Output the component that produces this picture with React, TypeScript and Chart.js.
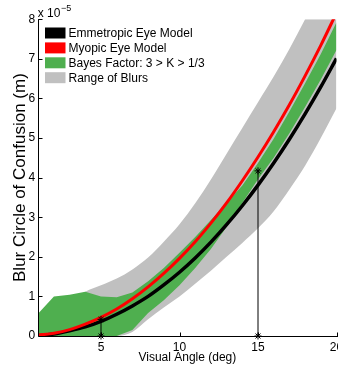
import React, { useEffect, useRef } from 'react';
import { Chart, registerables } from 'chart.js';

Chart.register(...registerables);

// ---- data (blur values in units of 1e-5 m) ----
const angles = [1, 2, 3, 4, 5, 6, 7, 8, 9, 10, 11, 12, 13, 14, 15, 16, 17, 18, 19, 20];
const emmetropic = [0.01, 0.05, 0.13, 0.23, 0.37, 0.55, 0.76, 1.0, 1.29, 1.61, 1.97, 2.37, 2.81, 3.29, 3.81, 4.37, 4.97, 5.61, 6.29, 7.01];
const myopic = [0.02, 0.07, 0.16, 0.3, 0.47, 0.68, 0.94, 1.24, 1.58, 1.96, 2.38, 2.85, 3.36, 3.92, 4.52, 5.16, 5.84, 6.57, 7.34, 8.16];
const bayesUpper = [0.57, 1.0, 1.04, 1.12, 1.0, 0.98, 1.1, 1.38, 1.72, 2.1, 2.5, 2.93, 3.36, 3.8, 4.37, 4.98, 5.67, 6.38, 7.12, 7.92];
const bayesLower = [0, 0, 0, 0, 0, 0, 0.15, 0.58, 0.9, 1.28, 1.72, 2.2, 2.75, 3.36, 3.96, 4.5, 5.12, 5.78, 6.48, 7.22];
const rangeUpper = [0.4, 0.65, 0.88, 1.12, 1.28, 1.45, 1.68, 1.98, 2.38, 2.82, 3.35, 3.95, 4.6, 5.25, 5.9, 6.55, 7.25, 8.0, 8.8, 9.6];
const rangeLower = [0, 0, 0, 0, 0, 0, 0.1, 0.42, 0.72, 1.0, 1.32, 1.65, 2.0, 2.35, 2.72, 3.15, 3.7, 4.3, 5.0, 5.75];
const stemAngles = [5, 15];
const stemBlurs = [0.42, 4.17];
const xTickValues = [5, 10, 15, 20];
const yTickValues = [0, 1, 2, 3, 4, 5, 6, 7, 8];
const legendLabels = ['Emmetropic Eye Model', 'Myopic Eye Model', 'Bayes Factor: 3 > K > 1/3', 'Range of Blurs'];
const xTitle = 'Visual Angle (deg)';
const yTitle = 'Blur Circle of Confusion (m)';
const exponentBase = 'x 10';
const exponentPower = '\u22125';

// ---- styles ----
const BLACK = '#000000';
const RED = '#ff0000';
const GREEN = '#4faf4f';
const GRAY = '#c0c0c0';
const legendColors = [BLACK, RED, GREEN, GRAY];
const FONT = '"Liberation Sans", Arial, Helvetica, sans-serif';

const pts = (ys: number[]) => angles.map((a, i) => ({ x: a, y: ys[i] }));

const overlayPlugin = {
  id: 'overlay',
  afterDatasetsDraw(chart: any) {
    const { ctx, chartArea } = chart;
    const xs = chart.scales.x;
    const ys = chart.scales.y;
    const left = Math.floor(chartArea.left) + 0.5;
    const bottom = Math.floor(chartArea.bottom) + 0.5;
    ctx.save();
    ctx.strokeStyle = BLACK;
    ctx.lineWidth = 1;
    ctx.beginPath();
    ctx.moveTo(left, chartArea.top);
    ctx.lineTo(left, bottom);
    ctx.lineTo(chartArea.right + 2, bottom);
    const tl = 4;
    xTickValues.forEach((v) => {
      const px = Math.round(xs.getPixelForValue(v)) + 0.5;
      ctx.moveTo(px, bottom);
      ctx.lineTo(px, bottom - tl);
    });
    yTickValues.forEach((v) => {
      const py = Math.round(ys.getPixelForValue(v)) + 0.5;
      ctx.moveTo(left, py);
      ctx.lineTo(left + tl, py);
    });
    ctx.stroke();
    ctx.restore();
  },
  afterDraw(chart: any) {
    const { ctx, chartArea } = chart;
    ctx.save();
    // exponent label
    ctx.fillStyle = BLACK;
    ctx.font = `12px ${FONT}`;
    ctx.textAlign = 'left';
    ctx.textBaseline = 'alphabetic';
    ctx.fillText(exponentBase, chartArea.left - 0.5, 16.5);
    const w = ctx.measureText(exponentBase).width;
    ctx.font = `9px ${FONT}`;
    ctx.fillText(exponentPower, chartArea.left - 0.5 + w + 0.5, 11);
    // legend
    const rowTop = 33;
    const rowStep = 14.9;
    ctx.font = `12px ${FONT}`;
    ctx.textBaseline = 'middle';
    legendLabels.forEach((lab, i) => {
      const cy = rowTop + i * rowStep;
      ctx.fillStyle = legendColors[i];
      ctx.fillRect(45, cy - 5.5, 20.5, 11);
      ctx.fillStyle = BLACK;
      ctx.fillText(lab, 68.5, cy + 0.5);
    });
    ctx.restore();
  },
};

export default function App() {
  const ref = useRef<HTMLCanvasElement | null>(null);
  useEffect(() => {
    if (!ref.current) return;
    const lineBase = { pointRadius: 0, pointHoverRadius: 0 };
    const stems = stemAngles.map((a, i) => ({
      label: 'stem' + i,
      data: [
        { x: a, y: 0 },
        { x: a, y: stemBlurs[i] },
      ],
      borderColor: BLACK,
      borderWidth: 1,
      pointStyle: 'star',
      pointRadius: 3.5,
      pointBorderColor: BLACK,
      pointBorderWidth: 1,
      pointBackgroundColor: BLACK,
      fill: false,
      clip: false,
      order: 0,
    }));
    const chart = new Chart(ref.current, {
      type: 'line',
      data: {
        datasets: [
          {
            label: 'rangeUpper',
            data: pts(rangeUpper),
            ...lineBase,
            borderWidth: 0,
            borderColor: 'transparent',
            backgroundColor: GRAY,
            fill: '+1',
            cubicInterpolationMode: 'monotone',
            order: 6,
          },
          {
            label: 'rangeLower',
            data: pts(rangeLower),
            ...lineBase,
            borderWidth: 0,
            borderColor: 'transparent',
            fill: false,
            cubicInterpolationMode: 'monotone',
            order: 5,
          },
          {
            label: 'bayesUpper',
            data: pts(bayesUpper),
            ...lineBase,
            borderWidth: 0,
            borderColor: 'transparent',
            backgroundColor: GREEN,
            fill: '+1',
            tension: 0,
            order: 4,
          },
          {
            label: 'bayesLower',
            data: pts(bayesLower),
            ...lineBase,
            borderWidth: 0,
            borderColor: 'transparent',
            fill: false,
            tension: 0,
            order: 3,
          },
          {
            label: legendLabels[0],
            data: pts(emmetropic),
            ...lineBase,
            borderColor: BLACK,
            borderWidth: 3.5,
            fill: false,
            cubicInterpolationMode: 'monotone',
            order: 2,
          },
          {
            label: legendLabels[1],
            data: pts(myopic),
            ...lineBase,
            borderColor: RED,
            borderWidth: 3,
            fill: false,
            cubicInterpolationMode: 'monotone',
            order: 1,
          },
          ...stems,
        ] as any,
      },
      options: {
        responsive: false,
        animation: false,
        events: [],
        layout: { autoPadding: false, padding: { left: 0, right: 1.5, top: 19.2, bottom: 0 } },
        plugins: {
          legend: { display: false },
          tooltip: { enabled: false },
        },
        scales: {
          x: {
            type: 'linear',
            min: 1,
            max: 20,
            afterBuildTicks: (s: any) => {
              s.ticks = xTickValues.map((v) => ({ value: v }));
            },
            afterFit: (s: any) => {
              s.height = 32;
              s.paddingLeft = 0;
              s.paddingRight = 0;
            },
            grid: { display: false, drawTicks: false },
            border: { display: false },
            ticks: {
              color: BLACK,
              font: { family: FONT, size: 12 },
              padding: 4,
              maxRotation: 0,
              autoSkip: false,
            },
            title: {
              display: true,
              text: xTitle,
              color: BLACK,
              font: { family: FONT, size: 12, lineHeight: 1.2 },
              padding: { top: 0, bottom: 3 },
            },
          },
          y: {
            type: 'linear',
            min: 0,
            max: 8,
            afterBuildTicks: (s: any) => {
              s.ticks = yTickValues.map((v) => ({ value: v }));
            },
            afterFit: (s: any) => {
              s.width = 38.2;
              s.paddingTop = 0;
              s.paddingBottom = 0;
            },
            grid: { display: false, drawTicks: false },
            border: { display: false },
            ticks: {
              color: BLACK,
              font: { family: FONT, size: 12 },
              padding: 3,
              autoSkip: false,
            },
            title: {
              display: true,
              text: yTitle,
              color: BLACK,
              font: { family: FONT, size: 17, lineHeight: 1.2 },
              padding: { top: 10.3, bottom: 0 },
            },
          },
        },
      } as any,
      plugins: [overlayPlugin],
    });
    return () => chart.destroy();
  }, []);
  return (
    <div style={{ position: 'absolute', left: 0, top: 0, width: 338, height: 368 }}>
      <canvas ref={ref} width={338} height={368} style={{ width: 338, height: 368, display: 'block' }} />
    </div>
  );
}
